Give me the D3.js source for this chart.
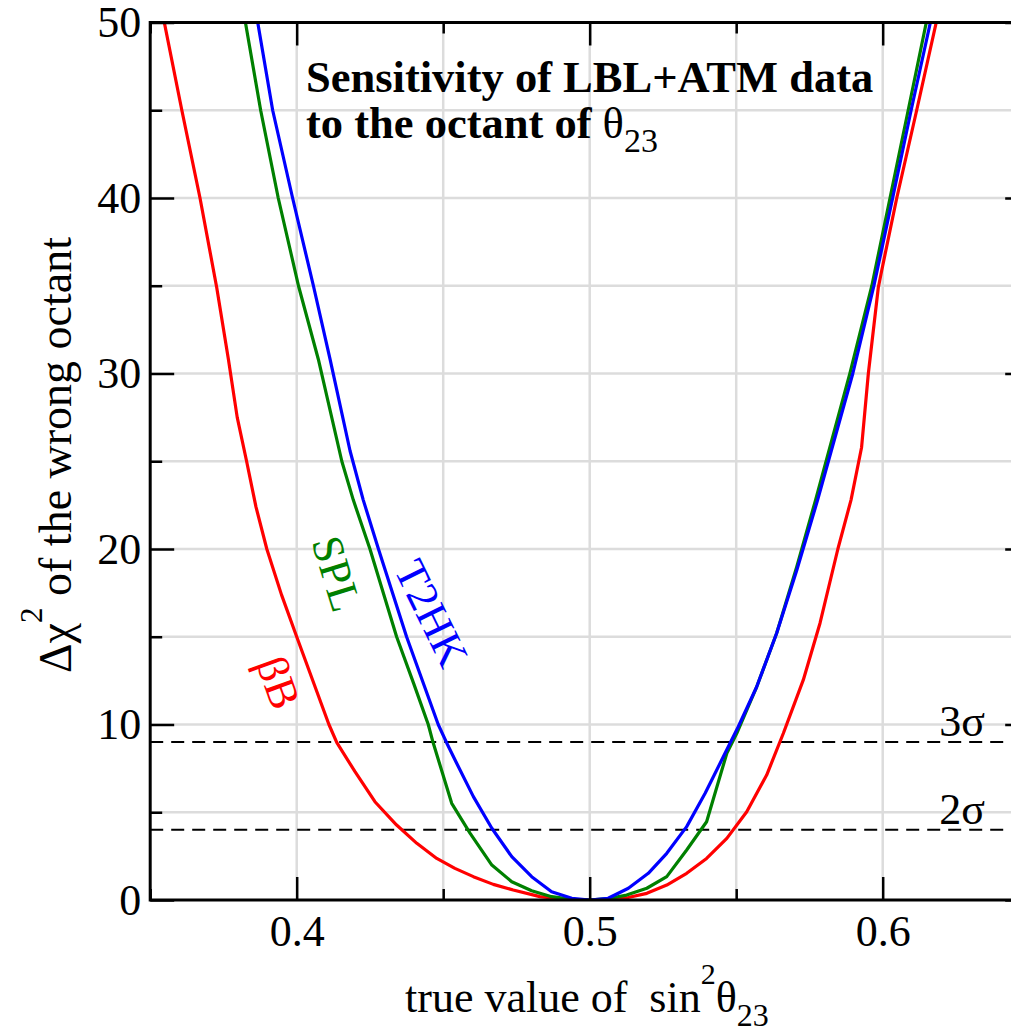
<!DOCTYPE html>
<html><head><meta charset="utf-8">
<script src="https://cdn.jsdelivr.net/npm/d3@7"></script>
<style>
html,body{margin:0;padding:0;background:#fff;}
text{font-family:"Liberation Serif","Times New Roman",serif;}
</style></head>
<body><svg id="c" width="1011" height="1032"></svg>
<script>
// ---- data ----
const bbX = [0.3547,0.3608,0.3670,0.3727,0.3767,0.3797,0.3829,0.3861,0.3898,0.3948,0.4000,0.4110,0.4137,0.4199,0.4267,0.4341,0.4410,0.4478,0.4540,0.4603,0.4671,0.4739,0.4830,0.4916,0.5000,0.5069,0.5131,0.5195,0.5263,0.5331,0.5399,0.5468,0.5536,0.5604,0.5661,0.5729,0.5786,0.5847,0.5892,0.5928,0.5951,0.5985,0.5997,0.6048,0.6116,0.6184];
const bbY = [50.1,45,40,34.9,30.8,27.5,25,22.4,20,17.4,15,10,8.97,7.31,5.60,4.27,3.23,2.37,1.80,1.33,0.89,0.57,0.19,0.04,0,0.03,0.14,0.38,0.85,1.52,2.37,3.51,5.03,7.12,9.50,12.54,15.77,20,22.8,25.8,30.0,34.9,35.9,40,45,50.1];

const splX = [0.3824,0.3877,0.3937,0.4006,0.4074,0.4154,0.4193,0.4250,0.4341,0.4400,0.4449,0.4465,0.4529,0.4592,0.4666,0.4734,0.4802,0.4870,0.4939,0.5000,0.5069,0.5126,0.5195,0.5263,0.5331,0.5399,0.5468,0.5502,0.5570,0.5638,0.5707,0.5771,0.5888,0.5963,0.6025,0.6087,0.6150];
const splY = [50.1,45,40,35,30.8,25,22.8,20,15,12.3,10,9.0,5.51,3.80,1.99,1.04,0.53,0.19,0.04,0,0.10,0.28,0.67,1.33,2.85,4.46,8.36,9.5,12.15,15.2,19.0,22.8,30,35,40,45,50.1];

const t2hkX = [0.3866,0.3918,0.3986,0.4057,0.4114,0.4182,0.4227,0.4279,0.4375,0.4483,0.4512,0.4546,0.4603,0.4666,0.4734,0.4802,0.4870,0.4939,0.5000,0.5063,0.5132,0.5200,0.5263,0.5331,0.5394,0.5456,0.5507,0.5570,0.5638,0.5707,0.5778,0.5898,0.5970,0.6034,0.6097,0.6164];
const t2hkY = [50.1,45,40,35,30.8,25.6,22.8,20,15,10,8.95,7.79,5.89,4.09,2.47,1.33,0.47,0.10,0,0.10,0.67,1.52,2.66,4.18,6.08,8.16,9.87,12.15,15.2,18.8,22.8,30,35,40,45,50.1];

const seriesNames = ["\u03B2B","SPL","T2HK"];
const seriesColors = ["#ff0000","#008000","#0000ff"];
const labelPosX = [0.394,0.4138,0.4462];
const labelPosY = [12.4,18.6,16.35];
const labelAngle = [70,73,64];

const sigmaLevels = [9,4];
const sigmaLabels = ["3\u03C3","2\u03C3"];

const xMajorTicks = [0.4,0.5,0.6];
const xMinorTicks = [0.35,0.45,0.55,0.65];
const yMajorTicks = [0,10,20,30,40,50];
const yMinorTicks = [5,15,25,35,45];
const xGrid = [0.4,0.45,0.5,0.55,0.6];
const yGrid = [5,10,15,20,25,30,35,40,45];

// ---- layout ----
const L = 150.2, T = 22.5, W = 879, H = 877.5;
const svg = d3.select("#c");
const x = d3.scaleLinear().domain([0.35,0.65]).range([L, L+W]);
const y = d3.scaleLinear().domain([0,50]).range([T+H, T]);

svg.append("defs").append("clipPath").attr("id","clip")
  .append("rect").attr("x",L).attr("y",T).attr("width",W).attr("height",H);

// grid
const grid = svg.append("g").attr("stroke","#dcdcdc").attr("stroke-width",2.5);
grid.selectAll(".gx").data(xGrid).join("line")
  .attr("x1",d=>x(d)).attr("x2",d=>x(d)).attr("y1",T).attr("y2",T+H);
grid.selectAll(".gy").data(yGrid).join("line")
  .attr("x1",L).attr("x2",L+W).attr("y1",d=>y(d)).attr("y2",d=>y(d));

// dashed sigma lines
svg.append("g").selectAll("line").data(sigmaLevels).join("line")
  .attr("x1",L).attr("x2",L+W).attr("y1",d=>y(d)).attr("y2",d=>y(d))
  .attr("stroke","#000").attr("stroke-width",2).attr("stroke-dasharray","13,8");

svg.append("g").selectAll("text").data(sigmaLevels).join("text")
  .attr("x",985).attr("y",d=>y(d)-6).attr("text-anchor","end")
  .attr("font-size",44).text((d,i)=>sigmaLabels[i]);

// curves
const line = d3.line().x(d=>x(d[0])).y(d=>y(d[1]));
const allX = [bbX,splX,t2hkX], allY = [bbY,splY,t2hkY];
const cg = svg.append("g").attr("clip-path","url(#clip)");
allX.forEach((xs,i)=>{
  cg.append("path").datum(xs.map((v,j)=>[v,allY[i][j]]))
    .attr("d",line).attr("fill","none").attr("stroke",seriesColors[i])
    .attr("stroke-width",3.2).attr("stroke-linejoin","round");
});

// curve labels
seriesNames.forEach((n,i)=>{
  svg.append("text")
    .attr("transform",`translate(${x(labelPosX[i])},${y(labelPosY[i])}) rotate(${labelAngle[i]})`)
    .attr("text-anchor","middle").attr("dy","0.35em")
    .attr("font-size",44).attr("fill",seriesColors[i]).text(n);
});

// frame
svg.append("rect").attr("x",L).attr("y",T).attr("width",W).attr("height",H)
  .attr("fill","none").attr("stroke","#000").attr("stroke-width",3);

function styleAxis(g){ g.select(".domain").remove(); g.selectAll("line").attr("stroke","#000").attr("stroke-width",2.5); g.selectAll("text").attr("font-family","Liberation Serif").attr("font-size",44).attr("fill","#000"); }

// bottom
svg.append("g").attr("transform",`translate(0,${T+H})`)
  .call(d3.axisBottom(x).tickValues(xMajorTicks).tickSize(-23).tickPadding(15).tickFormat(d3.format(".1f")))
  .call(styleAxis);
svg.append("g").attr("transform",`translate(0,${T+H})`)
  .call(d3.axisBottom(x).tickValues(xMinorTicks).tickSize(-11).tickFormat(""))
  .call(styleAxis);
// top
svg.append("g").attr("transform",`translate(0,${T})`)
  .call(d3.axisTop(x).tickValues(xMajorTicks).tickSize(-23).tickFormat(""))
  .call(styleAxis);
svg.append("g").attr("transform",`translate(0,${T})`)
  .call(d3.axisTop(x).tickValues(xMinorTicks).tickSize(-11).tickFormat(""))
  .call(styleAxis);
// left
svg.append("g").attr("transform",`translate(${L},0)`)
  .call(d3.axisLeft(y).tickValues(yMajorTicks).tickSize(-24).tickPadding(9).tickFormat(d3.format("d")))
  .call(styleAxis);
svg.append("g").attr("transform",`translate(${L},0)`)
  .call(d3.axisLeft(y).tickValues(yMinorTicks).tickSize(-12).tickFormat(""))
  .call(styleAxis);
// right
svg.append("g").attr("transform",`translate(${L+W},0)`)
  .call(d3.axisRight(y).tickValues(yMajorTicks).tickSize(-24).tickFormat(""))
  .call(styleAxis);
svg.append("g").attr("transform",`translate(${L+W},0)`)
  .call(d3.axisRight(y).tickValues(yMinorTicks).tickSize(-12).tickFormat(""))
  .call(styleAxis);

// title
const tt = svg.append("text").attr("font-size",44.5).attr("font-weight","bold");
tt.append("tspan").attr("x",306).attr("y",92).text("Sensitivity of LBL+ATM data");
const t2 = svg.append("text").attr("font-size",44.5).attr("font-weight","bold").attr("x",306).attr("y",138);
t2.append("tspan").text("to the octant of ");
t2.append("tspan").attr("font-weight","normal").text("\u03B8");
t2.append("tspan").attr("font-weight","normal").attr("font-size",34).attr("dy",14).text("23");

// x axis title
const xt = svg.append("text").attr("x",405).attr("y",1012).attr("font-size",44);
xt.append("tspan").text("true value of \u00A0sin");
xt.append("tspan").attr("font-size",30).attr("dy",-28).text("2");
xt.append("tspan").attr("dy",28).text("\u03B8");
xt.append("tspan").attr("font-size",32).attr("dy",14).text("23");

// y axis title
const yt = svg.append("text").attr("transform","translate(71,455) rotate(-90)")
  .attr("text-anchor","middle").attr("font-size",46);
yt.append("tspan").text("\u0394\u03C7");
yt.append("tspan").attr("font-size",31).attr("dy",-29).text("2");
yt.append("tspan").attr("dy",29).text(" of the wrong octant");
</script></body></html>
